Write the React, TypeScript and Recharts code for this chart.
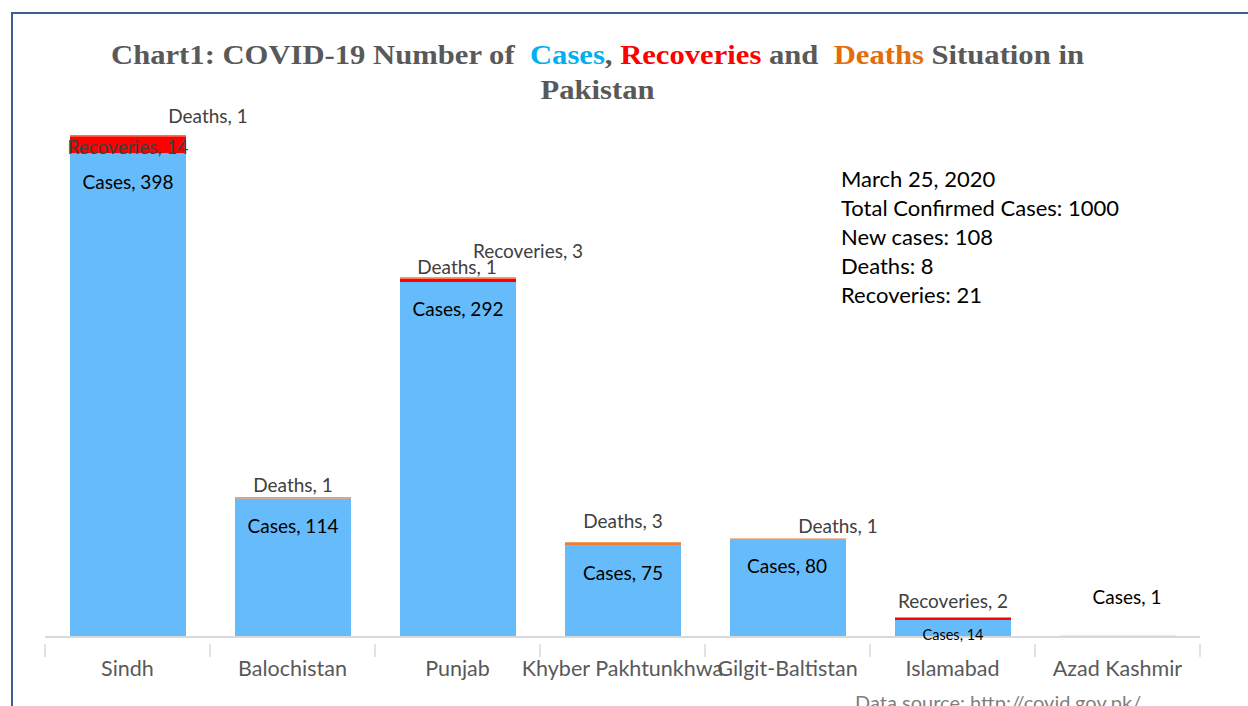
import React from 'react';
import { BarChart, Bar, XAxis, YAxis, LabelList } from 'recharts';

const regions = ['Sindh', 'Balochistan', 'Punjab', 'Khyber Pakhtunkhwa', 'Gilgit-Baltistan', 'Islamabad', 'Azad Kashmir'];
const cases = [398, 114, 292, 75, 80, 14, 1];
const recoveries = [14, 0, 3, 0, 0, 2, 0];
const deaths = [1, 1, 1, 3, 1, 0, 0];

const summaryLines = [
  'March 25, 2020',
  'Total Confirmed Cases: 1000',
  'New cases: 108',
  'Deaths: 8',
  'Recoveries: 21',
];

const data = regions.map((name, i) => ({
  name,
  Cases: cases[i],
  Recoveries: recoveries[i],
  Deaths: deaths[i],
}));

// hand-placed label nudges, like the original sheet (dx, dy from bar top)
const NUDGE: Record<string, [number, number][]> = {
  Cases: [[0, 28], [0, 27], [0, 26], [0, 27], [-1, 26], [0, 15], [9, -39]],
  Recoveries: [[0, 10], [0, 0], [70, -28], [0, 0], [0, 0], [0, -17], [0, 0]],
  Deaths: [[80, -19], [0, -13], [-1, -11], [0, -22], [50, -13], [0, 0], [0, 0]],
};

const W = 1248;
const H = 706;
const LEFT = 45;
const RIGHT = 48;
const BAND = (W - LEFT - RIGHT) / regions.length;
const FONT = 'Lato, "Noto Sans", sans-serif';

const makeLabel = (series: string, color: string) => (props: any) => {
  const { x, y, width, value } = props;
  if (!value) return null;
  // category from bar position (LabelList skips empty bars, so index is unreliable)
  const idx = Math.floor((Number(x) - LEFT) / BAND);
  const [dx, dy] = NUDGE[series][idx] || [0, 0];
  const small = series === 'Cases' && idx === 5;
  return (
    <text
      x={Number(x) + Number(width) / 2 + dx}
      y={Number(y) + dy}
      textAnchor="middle"
      dominantBaseline="central"
      fill={color}
      fontSize={small ? 14.5 : 19}
      fontFamily={FONT}
    >
      {`${series}, ${value}`}
    </text>
  );
};

const RegionTick = (props: any) => {
  const { x, y, payload, index } = props;
  const left = x - BAND / 2;
  return (
    <g>
      <line x1={left} y1={y - 1} x2={left} y2={y + 12} stroke="#D9D9D9" strokeWidth={1.5} />
      {index === regions.length - 1 && (
        <line x1={left + BAND} y1={y - 1} x2={left + BAND} y2={y + 12} stroke="#D9D9D9" strokeWidth={1.5} />
      )}
      <text x={x} y={y + 23} textAnchor="middle" dominantBaseline="central" fill="#595959" fontSize={21.5} fontFamily={FONT}>
        {payload.value}
      </text>
    </g>
  );
};

const App: React.FC = () => {
  return (
    <div style={{ position: 'absolute', left: 0, top: 0, width: W, height: H, background: '#fff', overflow: 'hidden' }}>
      <div
        style={{
          position: 'absolute',
          left: 11,
          top: 12,
          width: W,
          height: H,
          borderLeft: '2.5px solid #3A6191',
          borderTop: '2.5px solid #3A6191',
        }}
      />
      <div
        style={{
          position: 'absolute',
          left: 0,
          width: 1195,
          top: 37,
          textAlign: 'center',
          fontFamily: '"Liberation Serif", "Times New Roman", serif',
          fontWeight: 'bold',
          fontSize: 28,
          lineHeight: '35px',
          color: '#595959',
          transform: 'scaleX(1.094)',
          transformOrigin: '597.5px 0',
        }}
      >
        Chart1: COVID-19 Number of&nbsp; <span style={{ color: '#00B0F0' }}>Cases</span>,{' '}
        <span style={{ color: '#FF0000' }}>Recoveries</span> and&nbsp; <span style={{ color: '#E46C0A' }}>Deaths</span>{' '}
        Situation in
        <br />
        Pakistan
      </div>
      <div style={{ position: 'absolute', left: 841, top: 164, fontFamily: FONT, fontSize: 22, lineHeight: '29px', color: '#000' }}>
        {summaryLines.map((l) => (
          <div key={l}>{l}</div>
        ))}
      </div>
      <div style={{ position: 'absolute', left: 855, top: 690, fontFamily: FONT, fontSize: 20, color: '#7F7F7F' }}>
        Data source: http://covid.gov.pk/
      </div>
      <div style={{ position: 'absolute', left: 0, top: 0 }}>
        <BarChart width={W} height={H} data={data} margin={{ top: 90, right: RIGHT, bottom: 29, left: LEFT }}>
          <XAxis
            dataKey="name"
            interval={0}
            height={40}
            axisLine={{ stroke: '#D9D9D9', strokeWidth: 2 }}
            tickLine={false}
            tick={<RegionTick />}
          />
          <YAxis hide domain={[0, 450]} />
          <Bar dataKey="Cases" stackId="a" fill="#66BBFA" barSize={116} isAnimationActive={false}>
            <LabelList dataKey="Cases" content={makeLabel('Cases', '#000000')} />
          </Bar>
          <Bar dataKey="Recoveries" stackId="a" fill="#FF0000" barSize={116} isAnimationActive={false}>
            <LabelList dataKey="Recoveries" content={makeLabel('Recoveries', '#404040')} />
          </Bar>
          <Bar dataKey="Deaths" stackId="a" fill="#ED7D31" barSize={116} isAnimationActive={false}>
            <LabelList dataKey="Deaths" content={makeLabel('Deaths', '#404040')} />
          </Bar>
        </BarChart>
      </div>
    </div>
  );
};

export default App;
